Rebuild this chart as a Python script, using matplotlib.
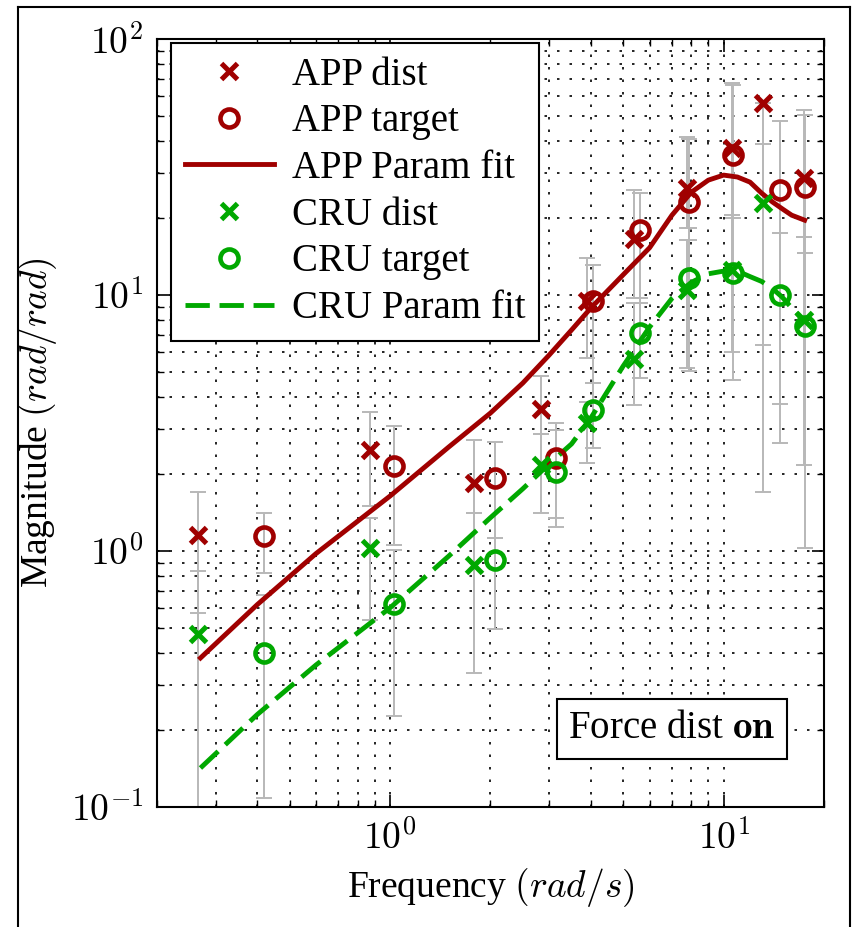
import numpy as np
import matplotlib
matplotlib.use('Agg')
import matplotlib.pyplot as plt
from matplotlib.ticker import FuncFormatter, NullFormatter, LogLocator
from matplotlib.lines import Line2D

plt.rcParams['font.family'] = ['Liberation Serif', 'DejaVu Serif']
plt.rcParams['mathtext.fontset'] = 'cm'

# frequencies (rad/s)
f_dist = [0.265, 0.87, 1.78, 2.84, 3.9, 5.4, 7.75, 10.6, 13.1, 17.4]
f_target = [0.42, 1.03, 2.07, 3.15, 4.05, 5.6, 7.85, 10.7, 14.8, 17.6]

# APP
app_dist = [1.15, 2.47, 1.84, 3.6, 9.5, 16.5, 26.2, 37.5, 56.2, 28.6]
app_dist_lo = [0.57, 1.50, 1.41, 2.86, 5.67, 9.73, 18.3, 20.5, 6.38, 16.8]
app_dist_hi = [1.70, 3.49, 2.71, 4.83, 13.9, 25.7, 41.4, 67.3, 56.2, 52.8]
app_target = [1.14, 2.14, 1.92, 2.30, 9.5, 18.0, 23.1, 35.2, 25.7, 26.4]
app_target_lo = [0.82, 1.055, 1.12, 1.35, 4.53, 9.3, 16.4, 20.0, 3.75, 14.6]
app_target_hi = [1.41, 3.08, 2.67, 3.16, 13.1, 25.0, 40.7, 66.1, 47.8, 50.5]

# CRU
cru_dist = [0.475, 1.03, 0.88, 2.16, 3.15, 5.6, 10.5, 12.5, 22.9, 8.0]
cru_dist_lo = [0.1, 0.54, 0.334, 1.41, 2.21, 3.72, 5.19, 5.99, 1.70, 2.17]
cru_dist_hi = [0.835, 1.35, 1.41, 2.86, 3.82, 9.3, 16.4, 20.5, 38.9, 16.8]
cru_target = [0.40, 0.62, 0.92, 2.03, 3.54, 7.1, 11.6, 12.2, 10.0, 7.6]
cru_target_lo = [0.108, 0.227, 0.496, 1.24, 2.52, 4.74, 5.05, 4.66, 2.64, 1.03]
cru_target_hi = [0.673, 1.01, 1.12, 2.97, 4.53, 9.73, 18.3, 20.0, 17.5, 14.6]

# parametric fits
f_fit = [0.27, 0.4, 0.6, 1.0, 1.5, 2.0, 2.5, 3.0, 3.5, 4.0, 5.0, 6.0, 7.0, 8.0,
         9.0, 10.0, 11.0, 12.0, 13.0, 14.0, 15.0, 16.0, 17.5]
app_fit = [0.382, 0.618, 0.978, 1.64, 2.55, 3.46, 4.53, 5.83, 7.3, 8.9, 12.0, 15.3,
           20.5, 25.2, 28.1, 29.4, 28.9, 27.6, 25.0, 23.1, 21.7, 20.5, 19.6]
cru_fit = [0.142, 0.23, 0.359, 0.60, 0.956, 1.35, 1.75, 2.19, 2.62, 3.31, 5.28, 7.5,
           9.7, 11.2, 12.1, 12.4, 12.4, 11.8, 11.3, 10.6, 9.8, 8.9, 7.85]

red = '#a00000'
green = '#00a800'
grey = '#b8b8b8'

fig = plt.figure(figsize=(8.54, 9.27), dpi=100)
ax = fig.add_axes([157/854, 1-807/927, 667/854, 768/927])

def ebar(x, y, lo, hi):
    y = np.array(y); lo = np.array(lo); hi = np.array(hi)
    err = np.vstack([np.clip(y-lo, 0, None), np.clip(hi-y, 0, None)])
    ax.errorbar(x, y, yerr=err, fmt='none', ecolor=grey, elinewidth=1.4,
                capsize=6, capthick=1.4, zorder=2)

ebar(f_dist, app_dist, app_dist_lo, app_dist_hi)
ebar(f_target, app_target, app_target_lo, app_target_hi)
ebar(f_dist, cru_dist, cru_dist_lo, cru_dist_hi)
ebar(f_target, cru_target, cru_target_lo, cru_target_hi)

h1, = ax.plot(f_dist, app_dist, 'x', color=red, ms=11, mew=3.6, ls='none', zorder=4)
h2, = ax.plot(f_target, app_target, 'o', color=red, ms=13, mew=3.3, mfc='none', ls='none', zorder=4)
h3, = ax.plot(f_fit, app_fit, '-', color=red, lw=3.5, zorder=3)
h4, = ax.plot(f_dist, cru_dist, 'x', color=green, ms=11, mew=3.6, ls='none', zorder=4)
h5, = ax.plot(f_target, cru_target, 'o', color=green, ms=13, mew=3.3, mfc='none', ls='none', zorder=4)
h6, = ax.plot(f_fit, cru_fit, '--', color=green, lw=3.5, dashes=(5, 2), zorder=3)

ax.set_xscale('log')
ax.set_yscale('log')
ax.set_xlim(0.2, 20)
ax.set_ylim(0.1, 100)

fmt = FuncFormatter(lambda v, p: r'$10^{%d}$' % int(round(np.log10(v))))
ax.xaxis.set_major_formatter(fmt)
ax.yaxis.set_major_formatter(fmt)
ax.xaxis.set_minor_formatter(NullFormatter())
ax.yaxis.set_minor_formatter(NullFormatter())
ax.xaxis.set_minor_locator(LogLocator(base=10, subs=np.arange(2, 10)))
ax.yaxis.set_minor_locator(LogLocator(base=10, subs=np.arange(2, 10)))

ax.grid(True, which='both', color='black', lw=1.2, linestyle=(0, (1.5, 6)), zorder=0)
ax.set_axisbelow(True)
ax.tick_params(which='both', direction='in', top=True, right=True, labelsize=27, pad=10)
ax.tick_params(which='major', length=9, width=1.2)
ax.tick_params(which='minor', length=5, width=1.0)
for s in ax.spines.values():
    s.set_linewidth(1.5)

ax.set_xlabel('Frequency $(rad/s)$', fontsize=27, labelpad=6)
ax.set_ylabel('Magnitude $(rad/rad)$', fontsize=27, labelpad=8)

leg = ax.legend([h1, h2, h3, h4, h5, h6],
                ['APP dist', 'APP target', 'APP Param fit', 'CRU dist', 'CRU target', 'CRU Param fit'],
                loc='upper left', bbox_to_anchor=(14/667, 1-4/768), borderaxespad=0,
                fontsize=28, fancybox=False, edgecolor='black', framealpha=1,
                handlelength=2.3, handletextpad=0.45, labelspacing=0.25, borderpad=0.35)
leg.get_frame().set_linewidth(1.5)
leg.set_zorder(6)

ax.text((672-157)/667, (807-729)/768, r'Force dist $\mathbf{on}$', transform=ax.transAxes,
        ha='center', va='center', fontsize=28, zorder=6,
        bbox=dict(boxstyle='square,pad=0.3', fc='white', ec='black', lw=1.5))

# outer frame of the figure
fig.add_artist(Line2D([18/854, 18/854], [0, 1-7/927], transform=fig.transFigure, color='black', lw=1.5))
fig.add_artist(Line2D([18/854, 850/854], [1-7/927, 1-7/927], transform=fig.transFigure, color='black', lw=1.5))
fig.add_artist(Line2D([850/854, 850/854], [0, 1-7/927], transform=fig.transFigure, color='black', lw=1.5))

fig.savefig('out.png', dpi=100)
